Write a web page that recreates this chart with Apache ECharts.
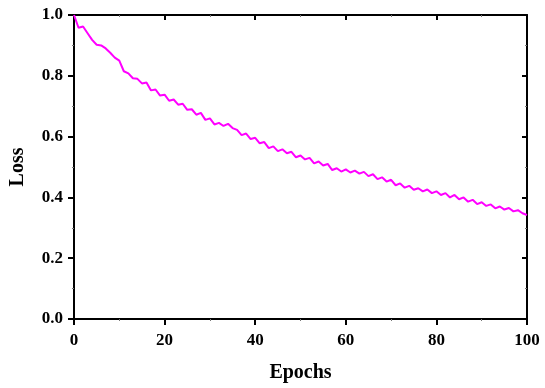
<!DOCTYPE html>
<html><head><meta charset="utf-8">
<script src="https://cdn.jsdelivr.net/npm/echarts@6/dist/echarts.min.js"></script>
<style>html,body{margin:0;padding:0;background:#fff}#c{width:545px;height:388px}</style>
</head><body><div id="c"></div>
<script>
const epochs = Array.from({length:101},(_, i)=>i);
const loss = [1.000,0.958,0.962,0.940,0.918,0.902,0.900,0.890,0.876,0.860,
0.850,0.815,0.808,0.792,0.790,0.775,0.778,0.752,0.755,0.735,
0.738,0.718,0.722,0.705,0.708,0.688,0.690,0.672,0.678,0.655,
0.660,0.640,0.645,0.635,0.642,0.628,0.622,0.605,0.610,0.592,
0.596,0.578,0.582,0.562,0.568,0.552,0.558,0.545,0.550,0.532,
0.538,0.525,0.530,0.512,0.518,0.505,0.510,0.490,0.496,0.485,
0.492,0.482,0.488,0.478,0.484,0.470,0.476,0.460,0.466,0.452,
0.458,0.440,0.446,0.432,0.438,0.425,0.430,0.420,0.426,0.414,
0.420,0.408,0.414,0.400,0.408,0.394,0.400,0.386,0.392,0.378,
0.384,0.372,0.377,0.364,0.370,0.360,0.365,0.354,0.358,0.348,
0.342];
const xTicks = [0,20,40,60,80,100];
const yTicks = [0.0,0.2,0.4,0.6,0.8,1.0];
const font = '"Liberation Serif","Times New Roman",serif';
const chart = echarts.init(document.getElementById('c'));
const axLine = {onZero:false,lineStyle:{color:'#000',width:2}};
const minor = {show:true,splitNumber:2,length:2,lineStyle:{color:'#777',width:1}};
chart.setOption({
  animation:false,
  grid:{left:72,right:18,top:15,bottom:65},
  xAxis:[{
    type:'value',min:0,max:100,interval:20,position:'bottom',
    name:'Epochs',nameLocation:'middle',nameGap:44,
    nameTextStyle:{fontFamily:font,fontWeight:'bold',fontSize:20,color:'#000'},
    axisLine:axLine,axisTick:{show:true,inside:false,length:6,lineStyle:{color:'#000',width:2}},
    minorTick:minor,
    axisLabel:{fontFamily:font,fontWeight:'bold',fontSize:17,color:'#000',margin:13,formatter:v=>String(v)},
    splitLine:{show:false}
  },{
    type:'value',min:0,max:100,interval:20,position:'top',
    axisLine:axLine,axisTick:{show:true,inside:true,length:5,lineStyle:{color:'#000',width:2}},
    minorTick:minor,
    axisLabel:{show:false},splitLine:{show:false}
  }],
  yAxis:[{
    type:'value',min:0,max:1,interval:0.2,position:'left',
    name:'Loss',nameLocation:'middle',nameGap:46,nameRotate:90,
    nameTextStyle:{fontFamily:font,fontWeight:'bold',fontSize:20,color:'#000'},
    axisLine:axLine,axisTick:{show:true,inside:false,length:6,lineStyle:{color:'#000',width:2}},
    minorTick:minor,
    axisLabel:{fontFamily:font,fontWeight:'bold',fontSize:17,color:'#000',margin:11,formatter:v=>v.toFixed(1)},
    splitLine:{show:false}
  },{
    type:'value',min:0,max:1,interval:0.2,position:'right',
    axisLine:axLine,axisTick:{show:true,inside:true,length:5,lineStyle:{color:'#000',width:2}},
    minorTick:minor,
    axisLabel:{show:false},splitLine:{show:false}
  }],
  series:[{
    type:'line',xAxisIndex:0,yAxisIndex:0,
    data:epochs.map((e,i)=>[e,loss[i]]),
    showSymbol:false,lineStyle:{color:'#ff00ff',width:2},itemStyle:{color:'#ff00ff'}
  }]
});
</script></body></html>
